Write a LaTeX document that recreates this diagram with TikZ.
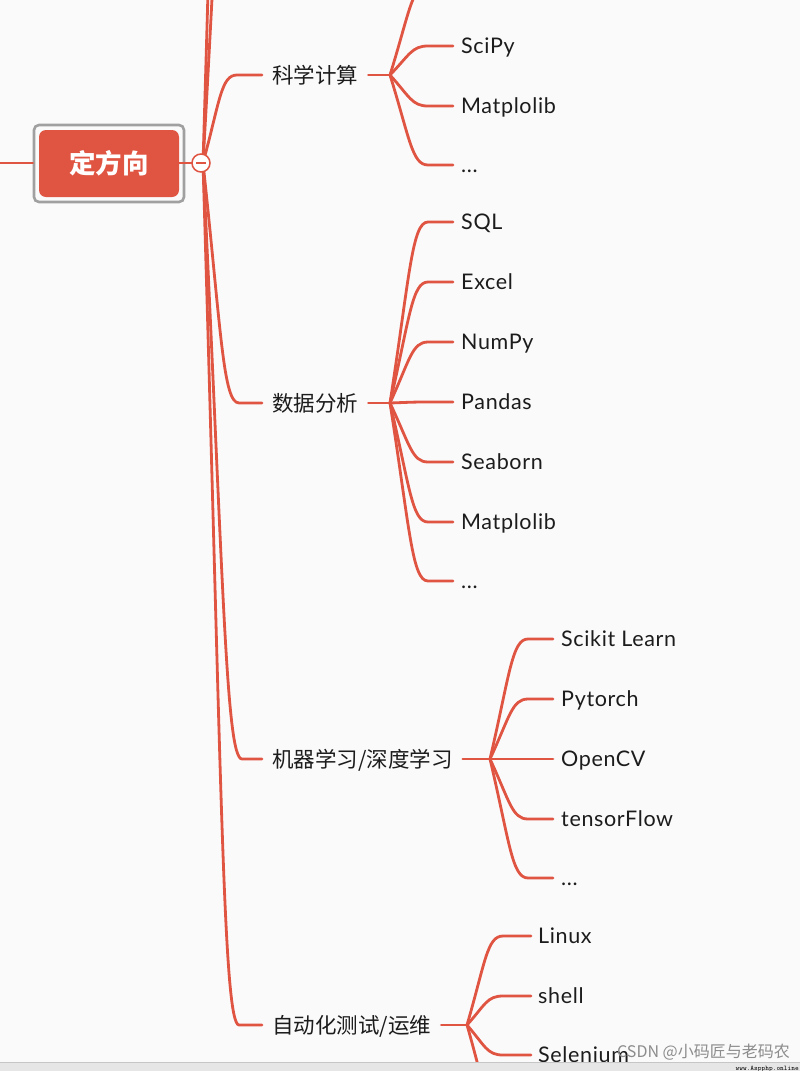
\documentclass[tikz,border=0pt]{standalone}
\usepackage{fontspec}
\setmainfont{Lato}[LetterSpace=3]
\newfontfamily\cjk{Noto Sans CJK SC}
\usetikzlibrary{calc}
\definecolor{mmred}{RGB}{224,84,66}
\definecolor{mmtext}{RGB}{28,28,28}
\definecolor{mmbg}{RGB}{250,250,250}
\definecolor{mmframe}{RGB}{160,160,160}
\definecolor{mmbar}{RGB}{230,230,230}
\newcommand\mmcurve[3]{%
  \draw[link] let \p1=(#1), \p2=(#2) in (\p1)
    .. controls ({\x1+0.7*#3pt},{\y1+0.7*(\y2-\y1)}) and ({\x1+#3pt-6pt},\y2)
    .. ({\x1+#3pt+10pt},\y2) -- (\p2);}
\tikzset{
  link/.style={draw=mmred,line width=2.8pt,line cap=round},
  leaf/.style={anchor=west,inner sep=0pt,text height=15pt,text depth=0pt,
    font=\fontsize{21.5}{21.5}\selectfont,text=mmtext},
  topic/.style={anchor=west,inner sep=0pt,text height=16pt,text depth=0pt,
    font=\cjk\fontsize{21.5}{21.5}\selectfont,text=mmtext},
}
\begin{document}
\begin{tikzpicture}[x=1pt,y=-1pt]
\fill[mmbg] (0,0) rectangle (800,1071);
\useasboundingbox (0,0) rectangle (800,1071);
\clip (0,0) rectangle (800,1071);

% root
\node (rootframe) [draw=mmframe,line width=2.6pt,rounded corners=5pt,
  minimum width=150pt,minimum height=77pt,inner sep=0pt] at (109,163.5) {};
\node (root) [fill=mmred,rounded corners=7pt,minimum width=140pt,minimum height=67pt,
  inner sep=0pt,text=white,font=\cjk\bfseries\fontsize{26.5}{26.5}\selectfont] at (109,163.5) {定方向};
\coordinate (leftend) at (0,163);
\coordinate (o) at (203,163);
\draw[link] (leftend) -- (rootframe.west |- leftend);

% topics
\node[topic] (t1) at (272,75) {科学计算};
\node[topic] (t2) at (272,403) {数据分析};
\node[topic] (t3) at (272,759) {机器学习/深度学习};
\node[topic] (t4) at (272,1025) {自动化测试/运维};
\coordinate (up1) at (262,-250);
\coordinate (up2) at (262,-560);

\mmcurve{o}{up2}{22}
\mmcurve{o}{up1}{24}
\mmcurve{o}{$(t1.west)+(-10,0)$}{24}
\mmcurve{o}{$(t2.west)+(-10,0)$}{26}
\mmcurve{o}{$(t3.west)+(-10,0)$}{29}
\mmcurve{o}{$(t4.west)+(-10,0)$}{26}

% collapse button
\draw[link] (root.east |- o) -- (192,163);
\node (btn) [circle,draw=mmred,fill=white,line width=1.5pt,minimum size=18pt,inner sep=0pt] at (201,163) {};
\draw[mmred,line width=1.6pt] ($(btn.center)+(-5,0)$) -- ($(btn.center)+(5,0)$);

% hubs
\coordinate (h1) at (390,75);
\coordinate (h2) at (390,403);
\coordinate (h3) at (490,759);
\coordinate (h4) at (467,1025);
\draw[link] (t1.east |- h1) ++(10,0) -- (h1);
\draw[link] (t2.east |- h2) ++(10,0) -- (h2);
\draw[link] (t3.east |- h3) ++(10,0) -- (h3);
\draw[link] (t4.east |- h4) ++(10,0) -- (h4);

% 科学计算 children
\node[leaf] (a1) at (461,46) {SciPy};
\node[leaf] (a2) at (461,106) {Matplolib};
\node[leaf] (a3) at (461,165) {...};
\coordinate (a0) at (453,-15);
\mmcurve{h1}{a0}{28}
\foreach \nd in {a1,a2,a3} {\mmcurve{h1}{$(\nd.west)+(-8,0)$}{28}}

% 数据分析 children
\node[leaf] (b1) at (461,222) {SQL};
\node[leaf] (b2) at (461,282) {Excel};
\node[leaf] (b3) at (461,342) {NumPy};
\node[leaf] (b4) at (461,402) {Pandas};
\node[leaf] (b5) at (461,462) {Seaborn};
\node[leaf] (b6) at (461,522) {Matplolib};
\node[leaf] (b7) at (461,581) {...};
\foreach \nd in {b1,b2,b3,b4,b5,b6,b7} {\mmcurve{h2}{$(\nd.west)+(-8,0)$}{28}}

% 机器学习 children
\node[leaf] (c1) at (561,639) {Scikit Learn};
\node[leaf] (c2) at (561,699) {Pytorch};
\node[leaf] (c3) at (561,759) {OpenCV};
\node[leaf] (c4) at (561,819) {tensorFlow};
\node[leaf] (c5) at (561,878) {...};
\foreach \nd in {c1,c2,c3,c4,c5} {\mmcurve{h3}{$(\nd.west)+(-8,0)$}{28}}

% 自动化 children
\node[leaf] (d1) at (538,936) {Linux};
\node[leaf] (d2) at (538,996) {shell};
\node[leaf] (d3) at (538,1055) {Selenium};
\coordinate (d0) at (531,1115);
\foreach \nd in {d1,d2,d3} {\mmcurve{h4}{$(\nd.west)+(-7,0)$}{26}}
\mmcurve{h4}{d0}{26}

% bottom bar and watermark
\fill[mmbar] (0,1062) rectangle (800,1071);
\draw[mmframe!60,line width=0.6pt] (0,1062) -- (800,1062);
\node (wm) [anchor=base west,inner sep=0pt,text=black!45,font=\cjk\fontsize{16}{16}\selectfont] at (617,1057.5) {CSDN @小码匠与老码农};
\node (wm2) [anchor=base east,inner sep=0pt,text=black,font=\ttfamily\fontsize{7}{7}\selectfont] at (799,1070.5) {www.Aspphp.online};
\end{tikzpicture}
\end{document}
